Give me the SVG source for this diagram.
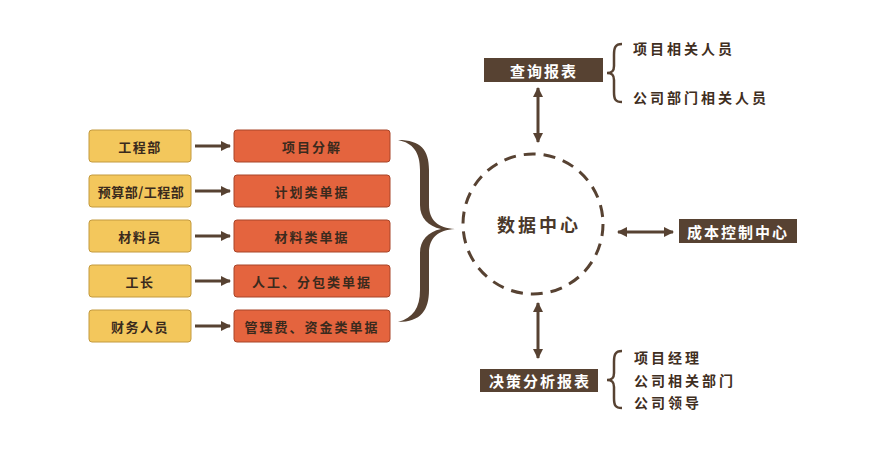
<svg xmlns="http://www.w3.org/2000/svg" width="890" height="449" viewBox="0 0 890 449">
<style>
text{font-family:"Noto Sans CJK SC","Noto Sans",sans-serif;font-weight:bold;}
.y{fill:#f3c75c;stroke:#c39a3e;stroke-width:1;}
.o{fill:#e4643e;stroke:#a84428;stroke-width:1;}
.d{fill:#574232;}
.t{font-size:13px;fill:#3a2a1d;text-anchor:middle;dominant-baseline:central;letter-spacing:1.5px;}
.w{font-size:15px;fill:#ffffff;text-anchor:middle;dominant-baseline:central;letter-spacing:2px;}
.r{font-size:14px;fill:#3f2e21;dominant-baseline:central;letter-spacing:3px;}
.ln{stroke:#574232;stroke-width:3;fill:none;}
</style>
<defs>
<marker id="ah" viewBox="0 0 10 10" refX="9" refY="5" markerWidth="3.4" markerHeight="3.4" orient="auto-start-reverse" markerUnits="strokeWidth">
<path d="M0,0 L10,5 L0,10 Z" fill="#574232"/>
</marker>
</defs>
<rect width="890" height="449" fill="#ffffff"/>
<g id="src-1"><rect class="y" x="89" y="130" width="102" height="32" rx="3"/><text class="t" x="140" y="146">工程部</text></g>
<g id="src-2"><rect class="y" x="89" y="175" width="102" height="32" rx="3"/><text class="t" x="141" y="191" style="letter-spacing:0.5px">预算部/工程部</text></g>
<g id="src-3"><rect class="y" x="89" y="220" width="102" height="32" rx="3"/><text class="t" x="140" y="236">材料员</text></g>
<g id="src-4"><rect class="y" x="89" y="265" width="102" height="32" rx="3"/><text class="t" x="140" y="281">工长</text></g>
<g id="src-5"><rect class="y" x="89" y="310" width="102" height="32" rx="3"/><text class="t" x="140" y="326">财务人员</text></g>
<g id="doc-1"><rect class="o" x="234" y="130" width="156" height="32" rx="3"/><text class="t" x="312" y="146" style="letter-spacing:2px">项目分解</text></g>
<g id="doc-2"><rect class="o" x="234" y="175" width="156" height="32" rx="3"/><text class="t" x="312" y="191" style="letter-spacing:2px">计划类单据</text></g>
<g id="doc-3"><rect class="o" x="234" y="220" width="156" height="32" rx="3"/><text class="t" x="312" y="236" style="letter-spacing:2px">材料类单据</text></g>
<g id="doc-4"><rect class="o" x="234" y="265" width="156" height="32" rx="3"/><text class="t" x="312" y="281" style="letter-spacing:2px">人工、分包类单据</text></g>
<g id="doc-5"><rect class="o" x="234" y="310" width="156" height="32" rx="3"/><text class="t" x="312" y="326" style="letter-spacing:2px">管理费、资金类单据</text></g>
<g id="data-center">
<circle cx="533" cy="224" r="70" fill="none" stroke="#574232" stroke-width="3" stroke-dasharray="12 8"/>
<text x="539" y="224" style="font-size:18px;fill:#4a382a;text-anchor:middle;dominant-baseline:central;letter-spacing:3px">数据中心</text>
</g>
<g id="query-report"><rect class="d" x="484" y="58" width="119" height="24"/><text class="w" x="544" y="70">查询报表</text></g>
<g id="decision-report"><rect class="d" x="480" y="369" width="118" height="23"/><text class="w" x="540" y="380.5">决策分析报表</text></g>
<g id="cost-center"><rect class="d" x="679" y="219" width="118" height="24"/><text class="w" x="738" y="231">成本控制中心</text></g>
<g id="query-targets">
<path d="M622,44 C615,44 614,48 614,55 L614,66 C614,71 612,73 607,73 C612,73 614,75 614,80 L614,92 C614,99 615,102 622,102" stroke="#574232" stroke-width="2.5" fill="none"/>
<text class="r" x="633" y="48">项目相关人员</text>
<text class="r" x="633" y="97">公司部门相关人员</text>
</g>
<g id="decision-targets">
<path d="M622,351 C615,351 614,355 614,362 L614,373 C614,378 612,380 607,380 C612,380 614,382 614,387 L614,398 C614,405 615,408 622,408" stroke="#574232" stroke-width="2.5" fill="none"/>
<text class="r" x="634" y="357">项目经理</text>
<text class="r" x="634" y="380">公司相关部门</text>
<text class="r" x="634" y="402">公司领导</text>
</g>
<g id="connectors">
<line class="ln" x1="195" y1="146" x2="230" y2="146" marker-end="url(#ah)"/>
<line class="ln" x1="195" y1="191" x2="230" y2="191" marker-end="url(#ah)"/>
<line class="ln" x1="195" y1="236" x2="230" y2="236" marker-end="url(#ah)"/>
<line class="ln" x1="195" y1="281" x2="230" y2="281" marker-end="url(#ah)"/>
<line class="ln" x1="195" y1="326" x2="230" y2="326" marker-end="url(#ah)"/>
<path d="M398,140 C421,140 429,150 429,170 L429,205 C429,220 438,228 455,229 C438,230 429,238 429,253 L429,290 C429,310 421,322 398,322 C413,318 420,308 420,290 L420,253 C420,240 428,232 441,229 C428,226 420,218 420,205 L420,170 C420,152 413,143 398,140 Z" fill="#574232"/>
<line class="ln" x1="538" y1="88" x2="538" y2="142" marker-start="url(#ah)" marker-end="url(#ah)"/>
<line class="ln" x1="538" y1="303" x2="538" y2="358" marker-start="url(#ah)" marker-end="url(#ah)"/>
<line class="ln" x1="618" y1="232" x2="673" y2="232" marker-start="url(#ah)" marker-end="url(#ah)"/>
</g>
</svg>
